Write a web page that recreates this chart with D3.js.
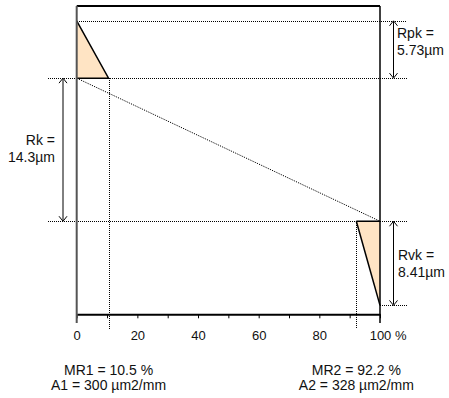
<!DOCTYPE html>
<html>
<head>
<meta charset="utf-8">
<script src="https://cdn.jsdelivr.net/npm/d3@7"></script>
<style>
  html, body { margin: 0; padding: 0; background: #fff; }
  svg { display: block; font-family: Arial, "Liberation Sans", sans-serif; }
</style>
</head>
<body>
<svg id="chart" width="449" height="398"></svg>
<script>
// ---- data ----
const paramNames = ["Rpk", "Rk", "Rvk"];
const paramValues = [5.73, 14.3, 8.41];          // µm
const mrNames = ["MR1", "MR2"];
const mrValues = [10.5, 92.2];                   // %
const areaNames = ["A1", "A2"];
const areaValues = [300, 328];                   // µm2/mm
const xTickValues = [0, 10, 20, 30, 40, 50, 60, 70, 80, 90, 100];
const xLabelValues = [0, 20, 40, 60, 80, 100];

// ---- layout ----
const svg = d3.select("#chart");
const FS = 14;
const TXT = "#111";
const x = d3.scaleLinear().domain([0, 100]).range([76.7, 380]);
const y = d3.scaleLinear().domain([-1.48, 29.33]).range([6, 314.3]);

const d0 = 0;
const d1 = paramValues[0];
const d2 = d1 + paramValues[1];
const d3v = d2 + paramValues[2];

const snap = v => Math.round(v) + 0.5;
const dotted = { stroke: "#000", "stroke-width": 1, "stroke-dasharray": "1,1", "shape-rendering": "crispEdges" };
function line(g, x1, y1, x2, y2, attrs) {
  const l = g.append("line").attr("x1", x1).attr("y1", y1).attr("x2", x2).attr("y2", y2);
  Object.entries(attrs).forEach(([k, v]) => l.attr(k, v));
  return l;
}

// filled triangles
const fill = "#FFE4C4";
svg.append("path")
  .attr("d", d3.line()([[x(0), y(d0)], [x(0), y(d1)], [x(mrValues[0]), y(d1)]]) + "Z")
  .attr("fill", fill);
svg.append("path")
  .attr("d", d3.line()([[x(mrValues[1]), y(d2)], [x(100), y(d2)], [x(100), y(d3v)]]) + "Z")
  .attr("fill", fill);

// dotted guide lines
const g = svg.append("g");
line(g, x(0), snap(y(d0)), 407, snap(y(d0)), dotted);
line(g, 48, snap(y(d1)), 407, snap(y(d1)), dotted);
line(g, 48, snap(y(d2)), 407, snap(y(d2)), dotted);
line(g, x(100), snap(y(d3v)), 407, snap(y(d3v)), dotted);
line(g, snap(x(mrValues[0])), y(d1), snap(x(mrValues[0])), 329, dotted);
line(g, snap(x(mrValues[1])), y(d2), snap(x(mrValues[1])), 329, dotted);
line(g, x(0), y(d1), x(100), y(d2), { stroke: "#000", "stroke-width": 1, "stroke-dasharray": "1.2,1.2" });

// triangle outlines
svg.append("path")
  .attr("d", d3.line()([[x(0), y(d0)], [x(mrValues[0]), y(d1)], [x(0), y(d1)]]))
  .attr("fill", "none").attr("stroke", "#000").attr("stroke-width", 1.5);
svg.append("path")
  .attr("d", d3.line()([[x(mrValues[1]), y(d2)], [x(100), y(d3v)]]))
  .attr("fill", "none").attr("stroke", "#000").attr("stroke-width", 1.5);
svg.append("path")
  .attr("d", d3.line()([[x(mrValues[1]), y(d2)], [x(100), y(d2)]]))
  .attr("fill", "none").attr("stroke", "#000").attr("stroke-width", 1.5);

// axis
const axis = d3.axisBottom(x)
  .tickValues(xTickValues)
  .tickSize(4)
  .tickSizeOuter(0)
  .tickPadding(12)
  .tickFormat(d => xLabelValues.includes(d) ? String(d) : "");
const ag = svg.append("g").attr("transform", `translate(0,${y.range()[1]})`).call(axis);
ag.select(".domain").attr("stroke", "#000").attr("stroke-width", 2);
ag.selectAll(".tick line").attr("stroke", "#000").attr("stroke-width", 1);
ag.selectAll(".tick text").attr("font-size", 13).attr("fill", TXT)
  .attr("font-family", 'Arial, "Liberation Sans", sans-serif');
svg.append("text").attr("x", x(100) + 15).attr("y", 340)
  .attr("font-size", 13).attr("fill", TXT).text("%");

// frame
line(svg, x(0), y.range()[0], x(100), y.range()[0], { stroke: "#000", "stroke-width": 2 });
line(svg, x(100), y.range()[0], x(100), 323, { stroke: "#000", "stroke-width": 1.5 });
line(svg, x(0), y.range()[0], x(0), 323, { stroke: "#555", "stroke-width": 2 });

// arrows
function arrow(ax, ya, yb) {
  line(svg, ax, ya + 1, ax, yb - 1, { stroke: "#000", "stroke-width": 1 });
  const h = 5, w = 4;
  svg.append("path").attr("d", `M${ax - w},${ya + h}L${ax},${ya}L${ax + w},${ya + h}`)
    .attr("fill", "none").attr("stroke", "#000").attr("stroke-width", 1);
  svg.append("path").attr("d", `M${ax - w},${yb - h}L${ax},${yb}L${ax + w},${yb - h}`)
    .attr("fill", "none").attr("stroke", "#000").attr("stroke-width", 1);
}
arrow(393.5, y(d0), y(d1));
arrow(63, y(d1), y(d2));
arrow(393.5, y(d2), y(d3v));

// parameter labels
function label2(tx, y1, y2, anchor, l1, l2) {
  const t = svg.append("text").attr("text-anchor", anchor).attr("font-size", FS).attr("fill", TXT);
  t.append("tspan").attr("x", tx).attr("y", y1).text(l1);
  t.append("tspan").attr("x", tx).attr("y", y2).text(l2);
}
const bounds = [[d0, d1], [d1, d2], [d2, d3v]];
const labelX = [397, 55, 398];
const anchors = ["start", "end", "start"];
const labelShift = [-8, -1.5, 0];
paramNames.forEach((n, i) => {
  const mid = (y(bounds[i][0]) + y(bounds[i][1])) / 2 + labelShift[i];
  label2(labelX[i], mid - 3.5, mid + 13.5, anchors[i], `${n} =`, `${paramValues[i]}µm`);
});

// bottom labels
mrNames.forEach((n, i) => {
  const t = svg.append("text").attr("text-anchor", "middle").attr("font-size", FS).attr("fill", TXT);
  t.append("tspan").attr("x", x(mrValues[i])).attr("y", 375).text(`${n} = ${mrValues[i]} %`);
  t.append("tspan").attr("x", x(mrValues[i])).attr("y", 390).text(`${areaNames[i]} = ${areaValues[i]} µm2/mm`);
});
</script>
</body>
</html>
